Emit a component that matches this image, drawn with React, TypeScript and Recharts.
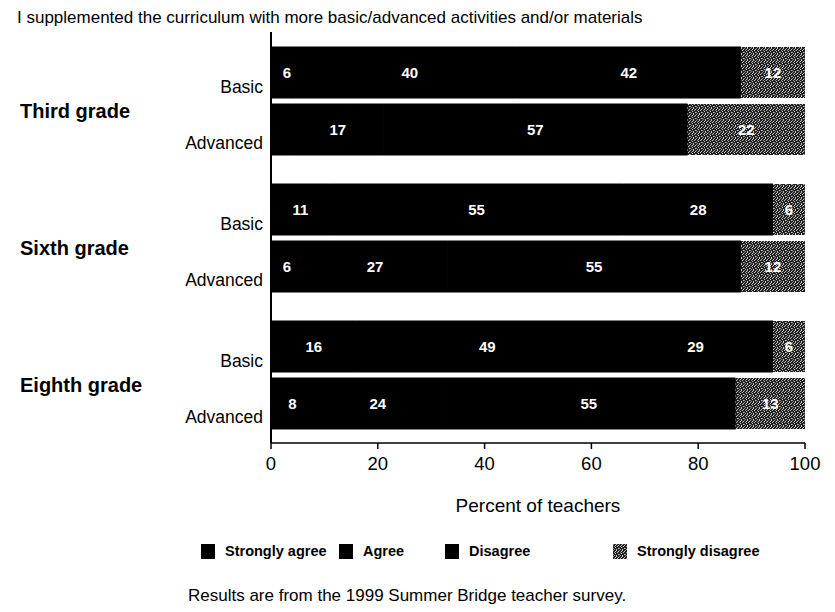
import { BarChart, Bar, XAxis, YAxis, LabelList } from "recharts";

const GRADES = ["Third grade", "Sixth grade", "Eighth grade"];
const LEVELS = ["Basic", "Advanced"];
const RESPONSES = ["Strongly agree", "Agree", "Disagree", "Strongly disagree"];

// percent of teachers, one entry per grade
const BASIC_STRONGLY_AGREE = [6, 11, 16];
const BASIC_AGREE = [40, 55, 49];
const BASIC_DISAGREE = [42, 28, 29];
const BASIC_STRONGLY_DISAGREE = [12, 6, 6];
const ADVANCED_STRONGLY_AGREE = [4, 6, 8];
const ADVANCED_AGREE = [17, 27, 24];
const ADVANCED_DISAGREE = [57, 55, 55];
const ADVANCED_STRONGLY_DISAGREE = [22, 12, 13];

const X_TICKS = [0, 20, 40, 60, 80, 100];

const FONT = "'Liberation Sans', Arial, Helvetica, sans-serif";
const FILLS = ["#000", "#000", "#000", "url(#dither)"];

const data = GRADES.map((grade, i) => ({
  grade,
  basicSA: BASIC_STRONGLY_AGREE[i],
  basicA: BASIC_AGREE[i],
  basicD: BASIC_DISAGREE[i],
  basicSD: BASIC_STRONGLY_DISAGREE[i],
  advSA: ADVANCED_STRONGLY_AGREE[i],
  advA: ADVANCED_AGREE[i],
  advD: ADVANCED_DISAGREE[i],
  advSD: ADVANCED_STRONGLY_DISAGREE[i],
}));

const SERIES = [
  { stack: "basic", keys: ["basicSA", "basicA", "basicD", "basicSD"] },
  { stack: "adv", keys: ["advSA", "advA", "advD", "advSD"] },
];

// small segments carry no number in the original
const showValue = (v: any) => (Number(v) >= 5 ? String(v) : "");

function GradeTick({ y, payload }: any) {
  return (
    <g fontFamily={FONT} fill="#000">
      <text x={20} y={y + 12} fontSize={20} fontWeight="bold" dominantBaseline="middle">
        {payload.value}
      </text>
      <text x={263} y={y - 12} fontSize={17.5} textAnchor="end" dominantBaseline="middle">
        {LEVELS[0]}
      </text>
      <text x={263} y={y + 44} fontSize={17.5} textAnchor="end" dominantBaseline="middle">
        {LEVELS[1]}
      </text>
    </g>
  );
}

// scanned-looking grey for "strongly disagree"
const SPECKS = [
  [0, 0], [3, 0], [5, 1], [1, 2], [4, 2], [2, 3], [0, 4], [5, 4], [3, 5], [1, 5], [2, 1],
];

function Dither() {
  return (
    <pattern id="dither" width="6" height="6" patternUnits="userSpaceOnUse">
      <rect width="6" height="6" fill="#222" />
      {SPECKS.map(([x, y], i) => (
        <rect key={i} x={x} y={y} width="1" height="1" fill={i % 3 ? "#c8c8c8" : "#8c8c8c"} />
      ))}
    </pattern>
  );
}

const LEGEND_LEFT = [201, 339, 445, 613];

export default function App() {
  return (
    <div
      style={{
        position: "absolute",
        left: 0,
        top: 0,
        width: 835,
        height: 612,
        background: "#fff",
        fontFamily: FONT,
        color: "#000",
      }}
    >
      <BarChart
        width={835}
        height={612}
        data={data}
        layout="vertical"
        barSize={51}
        barGap={6}
        margin={{ top: 32, right: 30, bottom: 139, left: 191 }}
      >
        <defs>
          <Dither />
        </defs>
        <XAxis
          type="number"
          domain={[0, 100]}
          ticks={X_TICKS}
          interval={0}
          stroke="#000"
          strokeWidth={1.5}
          tickSize={6}
          tickMargin={8}
          tick={{ fill: "#000", fontSize: 18.5, fontFamily: FONT }}
          label={{
            value: "Percent of teachers",
            position: "bottom",
            offset: 26,
            fill: "#000",
            fontSize: 19,
            fontFamily: FONT,
          }}
        />
        <YAxis
          type="category"
          dataKey="grade"
          width={80}
          stroke="#000"
          strokeWidth={2}
          tickLine={false}
          tick={<GradeTick />}
        />
        {SERIES.map((s) =>
          s.keys.map((key, j) => (
            <Bar
              key={key}
              dataKey={key}
              stackId={s.stack}
              fill={FILLS[j]}
              stroke={j < 3 ? "#000" : "none"}
              strokeWidth={1}
              isAnimationActive={false}
            >
              <LabelList
                dataKey={key}
                position="center"
                formatter={showValue}
                fill="#fff"
                fontSize={15}
                fontWeight="bold"
                fontFamily={FONT}
              />
            </Bar>
          ))
        )}
      </BarChart>

      <div style={{ position: "absolute", left: 17, top: 8, fontSize: 17, whiteSpace: "nowrap" }}>
        I supplemented the curriculum with more basic/advanced activities and/or materials
      </div>

      {RESPONSES.map((r, i) => (
        <div
          key={r}
          style={{
            position: "absolute",
            left: LEGEND_LEFT[i],
            top: 543,
            display: "flex",
            alignItems: "center",
            gap: 10,
            fontSize: 14.5,
            fontWeight: "bold",
            whiteSpace: "nowrap",
          }}
        >
          <svg width={14} height={15}>
            <rect width={14} height={15} fill={FILLS[i]} />
          </svg>
          <span>{r}</span>
        </div>
      ))}

      <div style={{ position: "absolute", left: 188, top: 586, fontSize: 17, whiteSpace: "nowrap" }}>
        Results are from the 1999 Summer Bridge teacher survey.
      </div>
    </div>
  );
}
